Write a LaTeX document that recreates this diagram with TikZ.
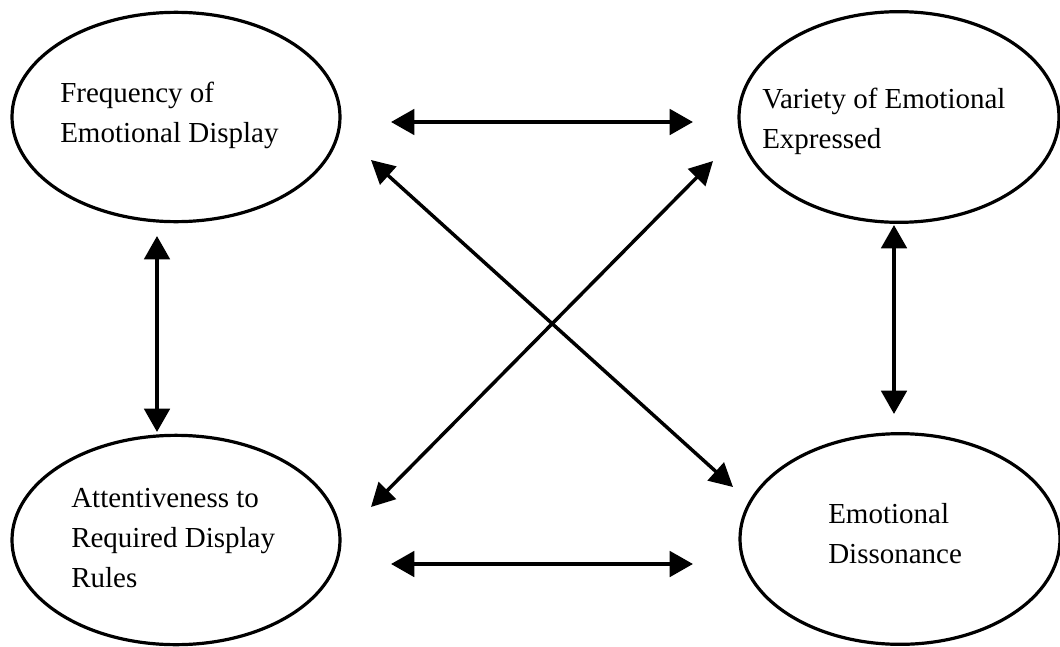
\documentclass[tikz,border=0pt]{standalone}
\usepackage{fontspec}
\setmainfont{Liberation Serif}
\usetikzlibrary{arrows.meta,shapes.geometric}
\begin{document}
\begin{tikzpicture}[x=0.75pt,y=-0.75pt,
  construct/.style={draw, ellipse, line width=2.4pt, inner sep=0pt},
  wide/.style={minimum width=246pt, minimum height=157pt},
  narrow/.style={minimum width=240pt, minimum height=158pt},
  lbl/.style={anchor=base west, align=left, inner sep=0pt,
    font=\fontsize{21.75pt}{30pt}\selectfont},
  link/.style={line width=3pt, {Triangle[length=17.5pt,width=19pt]}-{Triangle[length=17.5pt,width=19pt]}},
  crosslink/.style={line width=2.6pt, {Triangle[length=17.5pt,width=18pt]}-{Triangle[length=17.5pt,width=18pt]}}
  ]
\useasboundingbox (0,0) rectangle (1060,646);

% the four constructs
\node[construct, wide]   (freq)    at (176,117) {};
\node[construct, narrow] (variety) at (899,117) {};
\node[construct, wide]   (attent)  at (176,540) {};
\node[construct, narrow] (disson)  at (900,539) {};

% their names (positioned by the baseline of the last line)
\node[lbl] (freqtxt)    at (60,142)  {Frequency of\\Emotional Display};
\node[lbl] (varietytxt) at (762,148) {Variety of Emotional\\Expressed};
\node[lbl] (attenttxt)  at (71,587)  {Attentiveness to\\Required Display\\Rules};
\node[lbl] (dissontxt)  at (828,563) {Emotional\\Dissonance};

% free ends of the two-headed arrows
\coordinate (topL) at (391,122);  \coordinate (topR) at (693,122);
\coordinate (botL) at (391,564);  \coordinate (botR) at (693,564);
\coordinate (lftT) at (157,236);  \coordinate (lftB) at (157,432);
\coordinate (rgtT) at (894,225);  \coordinate (rgtB) at (894,414);
\coordinate (xTL)  at (371,160);  \coordinate (xBR)  at (733,487);
\coordinate (xBL)  at (371,507);  \coordinate (xTR)  at (713,161);

% reciprocal relations
\draw[link] (topL) -- (topR);
\draw[link] (botL) -- (botR);
\draw[link] (lftT) -- (lftB);
\draw[link] (rgtT) -- (rgtB);
\draw[crosslink] (xTL) -- (xBR);
\draw[crosslink] (xBL) -- (xTR);
\end{tikzpicture}
\end{document}
